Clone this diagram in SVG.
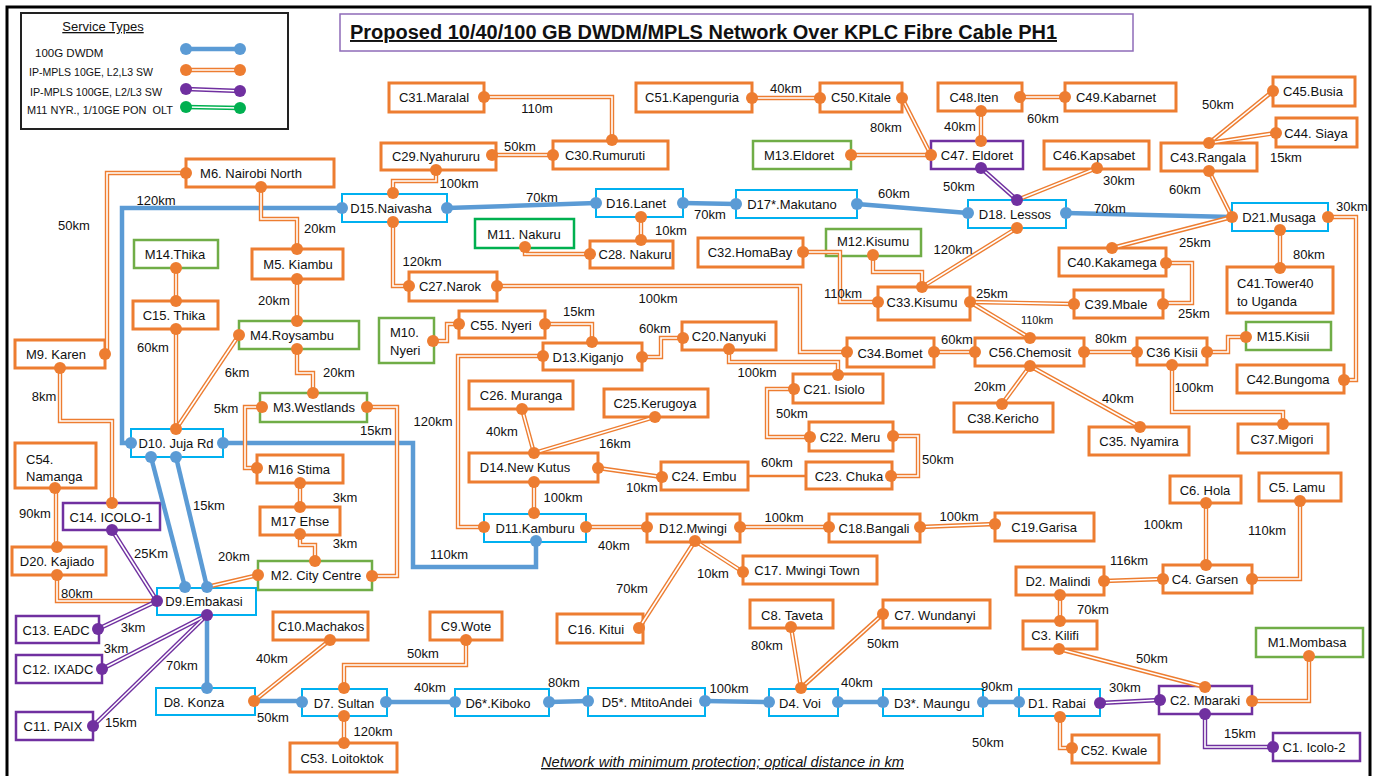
<svg xmlns="http://www.w3.org/2000/svg" xmlns:xlink="http://www.w3.org/1999/xlink" width="1380" height="776" viewBox="0 0 1380 776">
<style>
text{font-family:"Liberation Sans",Arial,sans-serif;fill:#111}
.n{font-size:13px;text-anchor:middle}
.nl{font-size:13px}
.lb{font-size:13px;text-anchor:middle}
.lg{font-size:11.5px}
.bo{fill:#fff;stroke:#ED7D31;stroke-width:3}
.bb{fill:#fff;stroke:#00B0F0;stroke-width:2}
.bg{fill:#fff;stroke:#70AD47;stroke-width:2.5}
.bg2{fill:#fff;stroke:#00B050;stroke-width:2.5}
.bp{fill:#fff;stroke:#7030A0;stroke-width:2.5}
.bl{fill:none;stroke:#5B9BD5;stroke-width:4.5}
.o1{fill:none;stroke:#ED7D31;stroke-width:4.4}
.o2{fill:none;stroke:#fff;stroke-width:1.6}
.p1{fill:none;stroke:#7030A0;stroke-width:4.4}
.p2{fill:none;stroke:#fff;stroke-width:1.6}
.g1{fill:none;stroke:#00B050;stroke-width:4.4}
.os{fill:none;stroke:#ED7D31;stroke-width:2.5}
.od{fill:#ED7D31}
.bd{fill:#5B9BD5}
.pd{fill:#7030A0}
.gd{fill:#00B050}
</style>
<defs>
<g id="oPaths">
<path d="M484,97 H612 V140"/>
<path d="M492,155 H553"/>
<path d="M436,170 V181 H393 V193"/>
<path d="M393,222 V286 H409"/>
<path d="M641,217 V240"/>
<path d="M525,247 V254 H590"/>
<path d="M752,98 H820"/>
<path d="M902,98 L931,155"/>
<path d="M851,155 H931"/>
<path d="M981,111 V141"/>
<path d="M1020,97 H1065"/>
<path d="M1017,200 L1097,168"/>
<path d="M1209,143 L1273,91"/>
<path d="M1209,143 L1276,133"/>
<path d="M1209,171 L1232,217"/>
<path d="M1232,217 L1112,248"/>
<path d="M1328,217 H1356 V380 H1344"/>
<path d="M1280,230 V268"/>
<path d="M1166,263 H1192 V303 H1163"/>
<path d="M970,302 L1074,304"/>
<path d="M970,302 L1030,338"/>
<path d="M1017,228 L922,287"/>
<path d="M873,255 V272 H922 V287"/>
<path d="M803,252 H840 V302 H878"/>
<path d="M497,286 H800 V352 H847"/>
<path d="M934,352 H975"/>
<path d="M1084,352 H1137"/>
<path d="M1207,352 H1228 V337 H1246"/>
<path d="M1172,365 V412 H1283 V424"/>
<path d="M1030,366 L1140,427"/>
<path d="M1030,366 L1002,404"/>
<path d="M642,357 H661 V338 H683"/>
<path d="M729,349 V362 H838 V375"/>
<path d="M794,389 H767 V437 H810"/>
<path d="M893,436 H918 V476 H891"/>
<path d="M433,341 H447 V324 H459"/>
<path d="M545,324 H592 V342"/>
<path d="M543,356 H458 V527 H484"/>
<path d="M522,409 L534,453"/>
<path d="M655,417 L534,453"/>
<path d="M598,468 L662,477"/>
<path d="M534,482 V513"/>
<path d="M586,527 H647"/>
<path d="M740,527 H829"/>
<path d="M920,527 L995,524"/>
<path d="M695,541 L743,572"/>
<path d="M695,541 L639,628"/>
<path d="M186,173 H107 V354"/>
<path d="M261,187 V219 H297 V249"/>
<path d="M176,268 V301"/>
<path d="M176,329 V429"/>
<path d="M297,279 V321"/>
<path d="M239,335 L176,429"/>
<path d="M297,349 V373 H313 V393"/>
<path d="M367,407 H397 V576 H372"/>
<path d="M262,407 H245 V468 H257"/>
<path d="M300,483 V507"/>
<path d="M300,534 V545 H315 V561"/>
<path d="M60,368 V421 H112 V503"/>
<path d="M56,488 V547"/>
<path d="M57,575 V601 H157"/>
<path d="M207,587 L258,575"/>
<path d="M254,701 L330,640"/>
<path d="M344,688 V665 H466 V640"/>
<path d="M344,716 V743"/>
<path d="M801,688 L791,627"/>
<path d="M801,688 L883,614"/>
<path d="M1060,717 V748 H1072"/>
<path d="M1059,649 L1205,687"/>
<path d="M1252,701 H1309 V656"/>
<path d="M1060,595 V621"/>
<path d="M1104,581 L1163,579"/>
<path d="M1206,503 V565"/>
<path d="M1300,501 V579 H1252"/>
</g>
<g id="pPaths">
<path d="M981,168 L1017,200"/>
<path d="M1100,703 L1160,700"/>
<path d="M1205,714 V747 H1273"/>
<path d="M112,530 L157,601"/>
<path d="M98,629 L157,601"/>
<path d="M102,669 L207,615"/>
<path d="M93,726 L207,615"/>
</g>
<path id="legO" d="M186,70 H240"/>
<path id="legP" d="M186,89 L240,91"/>
<path id="legG" d="M186,107 L240,108"/>
</defs>

<rect x="7" y="7" width="1363" height="785" fill="#fff" stroke="#000" stroke-width="3"/>

<g id="legend">
<rect x="21" y="13" width="267" height="116" fill="#fff" stroke="#222" stroke-width="2"/>
<text x="103" y="31" style="font-size:13px;text-anchor:middle;text-decoration:underline">Service Types</text>
<text class="lg" x="35" y="57">100G DWDM</text>
<text class="lg" x="29" y="76" textLength="124" lengthAdjust="spacingAndGlyphs">IP-MPLS 10GE, L2,L3 SW</text>
<text class="lg" x="30" y="96" textLength="132" lengthAdjust="spacingAndGlyphs">IP-MPLS 100GE, L2/L3 SW</text>
<text class="lg" x="27" y="114" xml:space="preserve" textLength="146" lengthAdjust="spacingAndGlyphs">M11 NYR., 1/10GE PON  OLT</text>
<path class="bl" d="M186,49 H240"/>
<circle class="bd" cx="186" cy="49" r="6"/><circle class="bd" cx="240" cy="49" r="6"/>
<use xlink:href="#legO" class="o1"/><use xlink:href="#legO" class="o2"/>
<circle class="od" cx="186" cy="70" r="6"/><circle class="od" cx="240" cy="70" r="6"/>
<use xlink:href="#legP" class="p1"/><use xlink:href="#legP" class="p2"/>
<circle class="pd" cx="186" cy="89" r="6"/><circle class="pd" cx="240" cy="91" r="6"/>
<use xlink:href="#legG" class="g1"/><use xlink:href="#legG" class="o2"/>
<circle class="gd" cx="186" cy="107" r="6"/><circle class="gd" cx="240" cy="108" r="6"/>
</g>

<g id="title">
<rect x="340" y="14" width="793" height="37" fill="#fff" stroke="#8E6BB8" stroke-width="1.5"/>
<text x="350" y="39" textLength="707" lengthAdjust="spacingAndGlyphs" style="font-size:19.5px;font-weight:bold;text-decoration:underline">Proposed 10/40/100 GB DWDM/MPLS Network Over KPLC Fibre Cable PH1</text>
</g>

<g id="nodes">
<g id="n-C31"><rect class="bo" x="389" y="83" width="95" height="29"/><text class="n" x="434" y="102">C31.Maralal</text></g>
<g id="n-C30"><rect class="bo" x="553" y="141" width="115" height="28"/><text class="n" x="605" y="160">C30.Rumuruti</text></g>
<g id="n-C29"><rect class="bo" x="381" y="143" width="115" height="27"/><text class="n" x="436" y="161">C29.Nyahururu</text></g>
<g id="n-D15"><rect class="bb" x="342" y="194" width="105" height="28"/><text class="n" x="391" y="213">D15.Naivasha</text></g>
<g id="n-D16"><rect class="bb" x="596" y="189" width="87" height="28"/><text class="n" x="636" y="208">D16.Lanet</text></g>
<g id="n-M11"><rect class="bg2" x="475" y="219" width="99" height="29"/><text class="n" x="524" y="239">M11. Nakuru</text></g>
<g id="n-C28"><rect class="bo" x="590" y="241" width="83" height="27"/><text class="n" x="635" y="259">C28. Nakuru</text></g>
<g id="n-C51"><rect class="bo" x="636" y="83" width="116" height="29"/><text class="n" x="692" y="102">C51.Kapenguria</text></g>
<g id="n-C50"><rect class="bo" x="820" y="83" width="82" height="29"/><text class="n" x="861" y="102">C50.Kitale</text></g>
<g id="n-M13"><rect class="bg" x="753" y="141" width="98" height="28"/><text class="n" x="799" y="160">M13.Eldoret</text></g>
<g id="n-C47"><rect class="bp" x="931" y="141" width="92" height="28"/><text class="n" x="977" y="160">C47. Eldoret</text></g>
<g id="n-C48"><rect class="bo" x="938" y="83" width="84" height="28"/><text class="n" x="974" y="102">C48.Iten</text></g>
<g id="n-C49"><rect class="bo" x="1065" y="83" width="111" height="28"/><text class="n" x="1116" y="102">C49.Kabarnet</text></g>
<g id="n-D17"><rect class="bb" x="736" y="190" width="121" height="28"/><text class="n" x="792" y="209">D17*.Makutano</text></g>
<g id="n-D18"><rect class="bb" x="968" y="200" width="98" height="28"/><text class="n" x="1015" y="219">D18. Lessos</text></g>
<g id="n-C46"><rect class="bo" x="1044" y="141" width="105" height="28"/><text class="n" x="1094" y="160">C46.Kapsabet</text></g>
<g id="n-C43"><rect class="bo" x="1161" y="143" width="96" height="28"/><text class="n" x="1208" y="162">C43.Rangala</text></g>
<g id="n-C45"><rect class="bo" x="1273" y="77" width="82" height="29"/><text class="n" x="1313" y="96">C45.Busia</text></g>
<g id="n-C44"><rect class="bo" x="1276" y="118" width="81" height="29"/><text class="n" x="1316" y="138">C44. Siaya</text></g>
<g id="n-D21"><rect class="bb" x="1232" y="203" width="96" height="28"/><text class="n" x="1279" y="222">D21.Musaga</text></g>
<g id="n-C40"><rect class="bo" x="1059" y="248" width="107" height="28"/><text class="n" x="1112" y="267">C40.Kakamega</text></g>
<g id="n-C39"><rect class="bo" x="1074" y="290" width="89" height="28"/><text class="n" x="1116" y="309">C39.Mbale</text></g>
<g id="n-C41"><rect class="bo" x="1227" y="267" width="106" height="46"/><text class="nl" x="1237" y="288">C41.Tower40<tspan x="1237" y="306">to Uganda</tspan></text></g>
<g id="n-M15"><rect class="bg" x="1246" y="322" width="85" height="28"/><text class="n" x="1283" y="341">M15.Kisii</text></g>
<g id="n-C42"><rect class="bo" x="1237" y="365" width="107" height="28"/><text class="n" x="1288" y="384">C42.Bungoma</text></g>
<g id="n-C36"><rect class="bo" x="1137" y="338" width="70" height="27"/><text class="n" x="1172" y="357">C36 Kisii</text></g>
<g id="n-C37"><rect class="bo" x="1238" y="424" width="90" height="29"/><text class="n" x="1282" y="444">C37.Migori</text></g>
<g id="n-C56"><rect class="bo" x="975" y="338" width="109" height="28"/><text class="n" x="1030" y="357">C56.Chemosit</text></g>
<g id="n-C35"><rect class="bo" x="1089" y="427" width="100" height="28"/><text class="n" x="1139" y="446">C35. Nyamira</text></g>
<g id="n-C38"><rect class="bo" x="954" y="403" width="99" height="29"/><text class="n" x="1003" y="423">C38.Kericho</text></g>
<g id="n-C34"><rect class="bo" x="847" y="338" width="87" height="29"/><text class="n" x="890" y="358">C34.Bomet</text></g>
<g id="n-C27"><rect class="bo" x="409" y="272" width="88" height="29"/><text class="n" x="450" y="291">C27.Narok</text></g>
<g id="n-M12"><rect class="bg" x="826" y="229" width="95" height="27"/><text class="n" x="873" y="246">M12.Kisumu</text></g>
<g id="n-C32"><rect class="bo" x="698" y="238" width="105" height="29"/><text class="n" x="750" y="257">C32.HomaBay</text></g>
<g id="n-C33"><rect class="bo" x="878" y="287" width="92" height="33"/><text class="n" x="922" y="307">C33.Kisumu</text></g>
<g id="n-M6"><rect class="bo" x="186" y="159" width="148" height="28"/><text class="n" x="251" y="178">M6. Nairobi North</text></g>
<g id="n-M14"><rect class="bg" x="134" y="240" width="84" height="28"/><text class="n" x="175" y="259">M14.Thika</text></g>
<g id="n-C15"><rect class="bo" x="133" y="301" width="85" height="28"/><text class="n" x="174" y="320">C15. Thika</text></g>
<g id="n-M5"><rect class="bo" x="252" y="249" width="91" height="30"/><text class="n" x="298" y="269">M5. Kiambu</text></g>
<g id="n-M4"><rect class="bg" x="239" y="321" width="120" height="28"/><text class="n" x="292" y="340">M4.Roysambu</text></g>
<g id="n-M3"><rect class="bg" x="260" y="393" width="107" height="29"/><text class="n" x="314" y="412">M3.Westlands</text></g>
<g id="n-M16"><rect class="bo" x="257" y="455" width="86" height="28"/><text class="n" x="299" y="474">M16 Stima</text></g>
<g id="n-M17"><rect class="bo" x="260" y="507" width="80" height="28"/><text class="n" x="300" y="526">M17 Ehse</text></g>
<g id="n-M2"><rect class="bg" x="258" y="561" width="114" height="29"/><text class="n" x="316" y="580">M2. City Centre</text></g>
<g id="n-D10"><rect class="bb" x="131" y="429" width="92" height="28"/><text class="n" x="176" y="448">D10. Juja Rd</text></g>
<g id="n-M9"><rect class="bo" x="15" y="340" width="90" height="28"/><text class="n" x="56" y="359">M9. Karen</text></g>
<g id="n-C54"><rect class="bo" x="15" y="443" width="81" height="45"/><text class="nl" x="26" y="464">C54.<tspan x="26" y="481">Namanga</tspan></text></g>
<g id="n-C14"><rect class="bp" x="63" y="503" width="97" height="27"/><text class="n" x="111" y="522">C14. ICOLO-1</text></g>
<g id="n-D20"><rect class="bo" x="12" y="547" width="94" height="28"/><text class="n" x="57" y="566">D20. Kajiado</text></g>
<g id="n-D9"><rect class="bb" x="157" y="588" width="99" height="27"/><text class="n" x="204" y="606">D9.Embakasi</text></g>
<g id="n-C13"><rect class="bp" x="16" y="616" width="83" height="27"/><text class="n" x="56" y="635">C13. EADC</text></g>
<g id="n-C12"><rect class="bp" x="16" y="655" width="86" height="28"/><text class="n" x="58" y="674">C12. IXADC</text></g>
<g id="n-C11"><rect class="bp" x="16" y="712" width="77" height="28"/><text class="n" x="53" y="731">C11. PAIX</text></g>
<g id="n-D8"><rect class="bb" x="156" y="688" width="99" height="27"/><text class="n" x="194" y="707">D8. Konza</text></g>
<g id="n-C10"><rect class="bo" x="273" y="612" width="95" height="28"/><text class="n" x="321" y="631">C10.Machakos</text></g>
<g id="n-D7"><rect class="bb" x="302" y="689" width="85" height="27"/><text class="n" x="344" y="708">D7. Sultan</text></g>
<g id="n-C9"><rect class="bo" x="430" y="612" width="72" height="28"/><text class="n" x="466" y="631">C9.Wote</text></g>
<g id="n-C53"><rect class="bo" x="290" y="743" width="107" height="29"/><text class="n" x="342" y="763">C53. Loitoktok</text></g>
<g id="n-D6"><rect class="bb" x="455" y="689" width="94" height="27"/><text class="n" x="498" y="708">D6*.Kiboko</text></g>
<g id="n-D5"><rect class="bb" x="588" y="688" width="117" height="28"/><text class="n" x="647" y="707">D5*. MtitoAndei</text></g>
<g id="n-D4"><rect class="bb" x="769" y="689" width="69" height="27"/><text class="n" x="800" y="708">D4. Voi</text></g>
<g id="n-C8"><rect class="bo" x="750" y="600" width="83" height="28"/><text class="n" x="792" y="620">C8. Taveta</text></g>
<g id="n-C7"><rect class="bo" x="883" y="600" width="107" height="28"/><text class="n" x="935" y="620">C7. Wundanyi</text></g>
<g id="n-D3"><rect class="bb" x="883" y="689" width="100" height="27"/><text class="n" x="932" y="708">D3*. Maungu</text></g>
<g id="n-D1"><rect class="bb" x="1019" y="689" width="81" height="27"/><text class="n" x="1057" y="708">D1. Rabai</text></g>
<g id="n-C52"><rect class="bo" x="1072" y="735" width="87" height="28"/><text class="n" x="1114" y="755">C52. Kwale</text></g>
<g id="n-C2"><rect class="bp" x="1159" y="686" width="93" height="28"/><text class="n" x="1205" y="705">C2. Mbaraki</text></g>
<g id="n-M1"><rect class="bg" x="1256" y="628" width="107" height="29"/><text class="n" x="1307" y="647">M1.Mombasa</text></g>
<g id="n-C1"><rect class="bp" x="1273" y="733" width="87" height="28"/><text class="n" x="1314" y="752">C1. Icolo-2</text></g>
<g id="n-C3"><rect class="bo" x="1023" y="621" width="74" height="28"/><text class="n" x="1055" y="640">C3. Kilifi</text></g>
<g id="n-D2"><rect class="bo" x="1016" y="567" width="88" height="28"/><text class="n" x="1058" y="586">D2. Malindi</text></g>
<g id="n-C4"><rect class="bo" x="1163" y="565" width="89" height="28"/><text class="n" x="1205" y="584">C4. Garsen</text></g>
<g id="n-C6"><rect class="bo" x="1170" y="476" width="71" height="27"/><text class="n" x="1205" y="495">C6. Hola</text></g>
<g id="n-C5"><rect class="bo" x="1259" y="473" width="82" height="28"/><text class="n" x="1297" y="492">C5. Lamu</text></g>
<g id="n-M10"><rect class="bg" x="379" y="318" width="55" height="45"/><text class="nl" x="390" y="337">M10.<tspan x="390" y="355">Nyeri</tspan></text></g>
<g id="n-C55"><rect class="bo" x="459" y="311" width="86" height="27"/><text class="n" x="501" y="330">C55. Nyeri</text></g>
<g id="n-D13"><rect class="bo" x="543" y="343" width="99" height="27"/><text class="n" x="588" y="362">D13.Kiganjo</text></g>
<g id="n-C20"><rect class="bo" x="682" y="322" width="94" height="28"/><text class="n" x="729" y="341">C20.Nanyuki</text></g>
<g id="n-C21"><rect class="bo" x="793" y="374" width="90" height="29"/><text class="n" x="834" y="394">C21. Isiolo</text></g>
<g id="n-C22"><rect class="bo" x="809" y="422" width="84" height="29"/><text class="n" x="850" y="442">C22. Meru</text></g>
<g id="n-C23"><rect class="bo" x="806" y="462" width="86" height="27"/><text class="n" x="849" y="481">C23. Chuka</text></g>
<g id="n-C24"><rect class="bo" x="661" y="462" width="87" height="28"/><text class="n" x="704" y="481">C24. Embu</text></g>
<g id="n-D14"><rect class="bo" x="469" y="453" width="129" height="29"/><text class="n" x="525" y="472">D14.New Kutus</text></g>
<g id="n-C26"><rect class="bo" x="469" y="381" width="104" height="28"/><text class="n" x="521" y="400">C26. Muranga</text></g>
<g id="n-C25"><rect class="bo" x="604" y="389" width="104" height="28"/><text class="n" x="655" y="408">C25.Kerugoya</text></g>
<g id="n-D11"><rect class="bb" x="484" y="514" width="102" height="28"/><text class="n" x="535" y="533">D11.Kamburu</text></g>
<g id="n-D12"><rect class="bo" x="647" y="514" width="93" height="28"/><text class="n" x="693" y="533">D12.Mwingi</text></g>
<g id="n-C18"><rect class="bo" x="829" y="514" width="91" height="28"/><text class="n" x="874" y="533">C18.Bangali</text></g>
<g id="n-C19"><rect class="bo" x="995" y="513" width="99" height="28"/><text class="n" x="1044" y="532">C19.Garisa</text></g>
<g id="n-C17"><rect class="bo" x="743" y="556" width="134" height="28"/><text class="n" x="807" y="575">C17. Mwingi Town</text></g>
<g id="n-C16"><rect class="bo" x="557" y="614" width="86" height="29"/><text class="n" x="596" y="634">C16. Kitui</text></g>
</g>

<g id="connectors">
<g class="bl">
<path d="M447,208 L596,203"/>
<path d="M683,203 L736,204"/>
<path d="M857,204 L968,213"/>
<path d="M1066,213 L1232,217"/>
<path d="M342,208 H122 V443 H131"/>
<path d="M223,443 H413 V567 H536 V541"/>
<path d="M151,457 L185,587"/>
<path d="M176,457 L207,587"/>
<path d="M207,615 V688"/>
<path d="M254,701 H302"/>
<path d="M386,702 H455"/>
<path d="M549,702 L588,701"/>
<path d="M705,701 L769,702"/>
<path d="M838,702 H883"/>
<path d="M983,702 H1019"/>
</g>
<use xlink:href="#oPaths" class="o1"/>
<use xlink:href="#oPaths" class="o2"/>
<use xlink:href="#pPaths" class="p1"/>
<use xlink:href="#pPaths" class="p2"/>
<path class="os" d="M748,476 H806"/>
<g class="od">
<circle cx="484" cy="97" r="6"/><circle cx="612" cy="140" r="6"/><circle cx="492" cy="155" r="6"/><circle cx="553" cy="155" r="6"/>
<circle cx="436" cy="170" r="6"/><circle cx="393" cy="193" r="6"/><circle cx="393" cy="222" r="6"/><circle cx="409" cy="286" r="6"/>
<circle cx="641" cy="217" r="6"/><circle cx="641" cy="240" r="6"/><circle cx="525" cy="247" r="6"/><circle cx="590" cy="254" r="6"/>
<circle cx="752" cy="98" r="6"/><circle cx="820" cy="98" r="6"/><circle cx="902" cy="98" r="6"/><circle cx="931" cy="155" r="6"/>
<circle cx="851" cy="155" r="6"/><circle cx="981" cy="111" r="6"/><circle cx="981" cy="141" r="6"/><circle cx="1020" cy="97" r="6"/>
<circle cx="1065" cy="97" r="6"/><circle cx="1097" cy="168" r="6"/><circle cx="1209" cy="143" r="6"/><circle cx="1273" cy="91" r="6"/>
<circle cx="1276" cy="133" r="6"/><circle cx="1209" cy="171" r="6"/><circle cx="1232" cy="217" r="6"/><circle cx="1112" cy="248" r="6"/>
<circle cx="1328" cy="217" r="6"/><circle cx="1344" cy="380" r="6"/><circle cx="1280" cy="230" r="6"/><circle cx="1280" cy="268" r="6"/>
<circle cx="1166" cy="263" r="6"/><circle cx="1163" cy="304" r="6"/><circle cx="970" cy="302" r="6"/><circle cx="1074" cy="304" r="6"/>
<circle cx="1030" cy="338" r="6"/><circle cx="1017" cy="228" r="6"/><circle cx="922" cy="287" r="6"/><circle cx="873" cy="255" r="6"/>
<circle cx="803" cy="252" r="6"/><circle cx="878" cy="302" r="6"/><circle cx="497" cy="286" r="6"/><circle cx="847" cy="352" r="6"/>
<circle cx="934" cy="352" r="6"/><circle cx="975" cy="352" r="6"/><circle cx="1084" cy="352" r="6"/><circle cx="1137" cy="352" r="6"/>
<circle cx="1207" cy="352" r="6"/><circle cx="1246" cy="337" r="6"/><circle cx="1172" cy="365" r="6"/><circle cx="1283" cy="424" r="6"/>
<circle cx="1030" cy="366" r="6"/><circle cx="1140" cy="427" r="6"/><circle cx="1002" cy="404" r="6"/><circle cx="642" cy="357" r="6"/>
<circle cx="683" cy="338" r="6"/><circle cx="729" cy="349" r="6"/><circle cx="838" cy="375" r="6"/><circle cx="794" cy="389" r="6"/>
<circle cx="810" cy="437" r="6"/><circle cx="893" cy="436" r="6"/><circle cx="891" cy="476" r="6"/><circle cx="433" cy="341" r="6"/>
<circle cx="459" cy="324" r="6"/><circle cx="545" cy="324" r="6"/><circle cx="592" cy="342" r="6"/><circle cx="543" cy="356" r="6"/>
<circle cx="484" cy="527" r="6"/><circle cx="522" cy="409" r="6"/><circle cx="534" cy="453" r="6"/><circle cx="655" cy="417" r="6"/>
<circle cx="598" cy="468" r="6"/><circle cx="662" cy="477" r="6"/><circle cx="534" cy="482" r="6"/><circle cx="534" cy="513" r="6"/>
<circle cx="586" cy="527" r="6"/><circle cx="647" cy="527" r="6"/><circle cx="740" cy="527" r="6"/><circle cx="829" cy="527" r="6"/>
<circle cx="920" cy="527" r="6"/><circle cx="995" cy="524" r="6"/><circle cx="695" cy="541" r="6"/><circle cx="743" cy="572" r="6"/>
<circle cx="639" cy="628" r="6"/><circle cx="186" cy="173" r="6"/><circle cx="105" cy="354" r="6"/><circle cx="261" cy="187" r="6"/>
<circle cx="297" cy="249" r="6"/><circle cx="176" cy="268" r="6"/><circle cx="176" cy="301" r="6"/><circle cx="176" cy="329" r="6"/>
<circle cx="176" cy="429" r="6"/><circle cx="297" cy="279" r="6"/><circle cx="297" cy="321" r="6"/><circle cx="239" cy="335" r="6"/>
<circle cx="297" cy="349" r="6"/><circle cx="313" cy="393" r="6"/><circle cx="367" cy="407" r="6"/><circle cx="372" cy="576" r="6"/>
<circle cx="262" cy="407" r="6"/><circle cx="257" cy="468" r="6"/><circle cx="300" cy="483" r="6"/><circle cx="300" cy="507" r="6"/>
<circle cx="300" cy="534" r="6"/><circle cx="315" cy="561" r="6"/><circle cx="60" cy="368" r="6"/><circle cx="112" cy="503" r="6"/>
<circle cx="55" cy="488" r="6"/><circle cx="57" cy="547" r="6"/><circle cx="57" cy="575" r="6"/><circle cx="258" cy="575" r="6"/>
<circle cx="254" cy="701" r="6"/><circle cx="330" cy="640" r="6"/><circle cx="344" cy="688" r="6"/><circle cx="466" cy="640" r="6"/>
<circle cx="344" cy="716" r="6"/><circle cx="344" cy="743" r="6"/><circle cx="801" cy="688" r="6"/><circle cx="791" cy="627" r="6"/>
<circle cx="883" cy="614" r="6"/><circle cx="1060" cy="717" r="6"/><circle cx="1072" cy="748" r="6"/><circle cx="1059" cy="649" r="6"/>
<circle cx="1205" cy="687" r="6"/><circle cx="1252" cy="701" r="6"/><circle cx="1309" cy="656" r="6"/><circle cx="1060" cy="595" r="6"/>
<circle cx="1060" cy="621" r="6"/><circle cx="1104" cy="581" r="6"/><circle cx="1163" cy="579" r="6"/><circle cx="1206" cy="503" r="6"/>
<circle cx="1206" cy="565" r="6"/><circle cx="1300" cy="501" r="6"/><circle cx="1252" cy="579" r="6"/>
</g>
<g class="bd">
<circle cx="447" cy="208" r="6"/><circle cx="596" cy="203" r="6"/><circle cx="683" cy="203" r="6"/><circle cx="736" cy="204" r="6"/>
<circle cx="857" cy="204" r="6"/><circle cx="968" cy="213" r="6"/><circle cx="1066" cy="213" r="6"/><circle cx="342" cy="208" r="6"/>
<circle cx="131" cy="443" r="6"/><circle cx="223" cy="443" r="6"/><circle cx="536" cy="541" r="6"/><circle cx="151" cy="457" r="6"/>
<circle cx="185" cy="587" r="6"/><circle cx="176" cy="457" r="6"/><circle cx="207" cy="587" r="6"/><circle cx="207" cy="688" r="6"/>
<circle cx="302" cy="702" r="6"/><circle cx="386" cy="702" r="6"/><circle cx="455" cy="702" r="6"/><circle cx="549" cy="702" r="6"/>
<circle cx="588" cy="701" r="6"/><circle cx="705" cy="701" r="6"/><circle cx="769" cy="702" r="6"/><circle cx="838" cy="702" r="6"/>
<circle cx="883" cy="702" r="6"/><circle cx="983" cy="702" r="6"/><circle cx="1019" cy="702" r="6"/>
</g>
<g class="pd">
<circle cx="981" cy="168" r="6"/><circle cx="1017" cy="200" r="6"/><circle cx="1100" cy="703" r="6"/><circle cx="1160" cy="700" r="6"/>
<circle cx="1205" cy="714" r="6"/><circle cx="1273" cy="747" r="6"/><circle cx="112" cy="530" r="6"/><circle cx="157" cy="601" r="6"/>
<circle cx="98" cy="629" r="6"/><circle cx="102" cy="669" r="6"/><circle cx="207" cy="615" r="6"/><circle cx="93" cy="726" r="6"/>
</g>
</g>

<g id="labels">
<text class="lb" x="537" y="113">110m</text>
<text class="lb" x="520" y="151">50km</text>
<text class="lb" x="459" y="188">100km</text>
<text class="lb" x="542" y="202">70km</text>
<text class="lb" x="671" y="235">10km</text>
<text class="lb" x="422" y="266">120km</text>
<text class="lb" x="786" y="93">40km</text>
<text class="lb" x="886" y="132">80km</text>
<text class="lb" x="960" y="131">40km</text>
<text class="lb" x="1043" y="123">60km</text>
<text class="lb" x="959" y="191">50km</text>
<text class="lb" x="894" y="198">60km</text>
<text class="lb" x="710" y="219">70km</text>
<text class="lb" x="1119" y="185">30km</text>
<text class="lb" x="1110" y="213">70km</text>
<text class="lb" x="1218" y="109">50km</text>
<text class="lb" x="1286" y="162">15km</text>
<text class="lb" x="1185" y="194">60km</text>
<text class="lb" x="1352" y="211">30km</text>
<text class="lb" x="1195" y="247">25km</text>
<text class="lb" x="1309" y="259">80km</text>
<text class="lb" x="953" y="254">120km</text>
<text class="lb" x="843" y="298">110km</text>
<text class="lb" x="992" y="298">25km</text>
<text class="lb" x="1037" y="324" style="font-size:11px">110km</text>
<text class="lb" x="1194" y="318">25km</text>
<text class="lb" x="658" y="303">100km</text>
<text class="lb" x="957" y="344">60km</text>
<text class="lb" x="1111" y="343">80km</text>
<text class="lb" x="990" y="391">20km</text>
<text class="lb" x="1118" y="403">40km</text>
<text class="lb" x="1194" y="392">100km</text>
<text class="lb" x="579" y="316">15km</text>
<text class="lb" x="655" y="333">60km</text>
<text class="lb" x="757" y="377">100km</text>
<text class="lb" x="792" y="418">50km</text>
<text class="lb" x="938" y="464">50km</text>
<text class="lb" x="777" y="467">60km</text>
<text class="lb" x="433" y="426">120km</text>
<text class="lb" x="502" y="436">40km</text>
<text class="lb" x="615" y="448">16km</text>
<text class="lb" x="642" y="492">10km</text>
<text class="lb" x="563" y="502">100km</text>
<text class="lb" x="449" y="559">110km</text>
<text class="lb" x="614" y="550">40km</text>
<text class="lb" x="784" y="522">100km</text>
<text class="lb" x="959" y="521">100km</text>
<text class="lb" x="713" y="578">10km</text>
<text class="lb" x="632" y="593">70km</text>
<text class="lb" x="1163" y="529">100km</text>
<text class="lb" x="1267" y="535">110km</text>
<text class="lb" x="1129" y="565">116km</text>
<text class="lb" x="1093" y="614">70km</text>
<text class="lb" x="1152" y="663">50km</text>
<text class="lb" x="1125" y="692">30km</text>
<text class="lb" x="1240" y="738">15km</text>
<text class="lb" x="988" y="747">50km</text>
<text class="lb" x="997" y="691">90km</text>
<text class="lb" x="857" y="687">40km</text>
<text class="lb" x="729" y="693">100km</text>
<text class="lb" x="767" y="650">80km</text>
<text class="lb" x="883" y="648">50km</text>
<text class="lb" x="564" y="687">80km</text>
<text class="lb" x="430" y="692">40km</text>
<text class="lb" x="373" y="736">120km</text>
<text class="lb" x="423" y="658">50km</text>
<text class="lb" x="273" y="722">50km</text>
<text class="lb" x="272" y="663">40km</text>
<text class="lb" x="182" y="670">70km</text>
<text class="lb" x="121" y="727">15km</text>
<text class="lb" x="133" y="632">3km</text>
<text class="lb" x="116" y="653">3km</text>
<text class="lb" x="151" y="558">25Km</text>
<text class="lb" x="77" y="598">80km</text>
<text class="lb" x="234" y="561">20km</text>
<text class="lb" x="35" y="518">90km</text>
<text class="lb" x="44" y="401">8km</text>
<text class="lb" x="209" y="510">15km</text>
<text class="lb" x="226" y="413">5km</text>
<text class="lb" x="237" y="377">6km</text>
<text class="lb" x="339" y="377">20km</text>
<text class="lb" x="376" y="435">15km</text>
<text class="lb" x="345" y="502">3km</text>
<text class="lb" x="345" y="548">3km</text>
<text class="lb" x="153" y="352">60km</text>
<text class="lb" x="274" y="305">20km</text>
<text class="lb" x="320" y="233">20km</text>
<text class="lb" x="74" y="230">50km</text>
<text class="lb" x="156" y="205">120km</text>
</g>

<text x="541" y="767" textLength="363" lengthAdjust="spacingAndGlyphs" style="font-size:14px;font-style:italic;text-decoration:underline">Network with minimum protection; optical distance in km</text>
</svg>
